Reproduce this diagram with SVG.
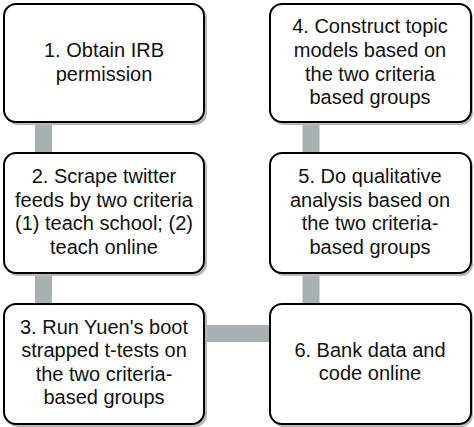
<svg xmlns="http://www.w3.org/2000/svg" width="474" height="427" viewBox="0 0 474 427">
<style>
.box{fill:#fff;stroke:#000;stroke-width:2}
.shadow{fill:#b8b8b8}
.conn{stroke:#a7b1b1;stroke-width:17;fill:none}
text{font-family:"Liberation Sans",Arial,sans-serif;font-size:20px;fill:#111;text-anchor:middle}
</style>
<rect width="474" height="427" fill="#fff"/>
<g id="connectors">
<line class="conn" x1="43.5" y1="120" x2="43.5" y2="306"/>
<line class="conn" x1="311" y1="120" x2="311" y2="306"/>
<line class="conn" x1="202" y1="333.5" x2="272" y2="333.5"/>
</g>
<g id="n1">
<rect class="shadow" x="6" y="6" width="201" height="119" rx="12"/>
<rect class="box" x="4" y="4" width="200" height="118" rx="12"/>
<text x="104" y="57">1. Obtain IRB</text>
<text x="104" y="81">permission</text>
</g>
<g id="n2">
<rect class="shadow" x="6" y="155" width="201" height="121" rx="12"/>
<rect class="box" x="4" y="153" width="200" height="120" rx="12"/>
<text x="104" y="183">2. Scrape twitter</text>
<text x="104" y="207">feeds by two criteria</text>
<text x="104" y="230">(1) teach school; (2)</text>
<text x="104" y="254">teach online</text>
</g>
<g id="n3">
<rect class="shadow" x="6" y="306" width="201" height="121" rx="12"/>
<rect class="box" x="4" y="304" width="200" height="120" rx="12"/>
<text x="104" y="334">3. Run Yuen's boot</text>
<text x="104" y="357">strapped t-tests on</text>
<text x="104" y="381">the two criteria-</text>
<text x="104" y="404">based groups</text>
</g>
<g id="n4">
<rect class="shadow" x="272" y="6" width="201" height="119" rx="12"/>
<rect class="box" x="270" y="4" width="201" height="118" rx="12"/>
<text x="370" y="33">4. Construct topic</text>
<text x="370" y="57">models based on</text>
<text x="370" y="81">the two criteria</text>
<text x="370" y="104">based groups</text>
</g>
<g id="n5">
<rect class="shadow" x="272" y="155" width="201" height="121" rx="12"/>
<rect class="box" x="270" y="153" width="201" height="120" rx="12"/>
<text x="370" y="183">5. Do qualitative</text>
<text x="370" y="207">analysis based on</text>
<text x="370" y="230">the two criteria-</text>
<text x="370" y="254">based groups</text>
</g>
<g id="n6">
<rect class="shadow" x="272" y="306" width="201" height="121" rx="12"/>
<rect class="box" x="270" y="304" width="201" height="120" rx="12"/>
<text x="370" y="357">6. Bank data and</text>
<text x="370" y="380">code online</text>
</g>
</svg>
